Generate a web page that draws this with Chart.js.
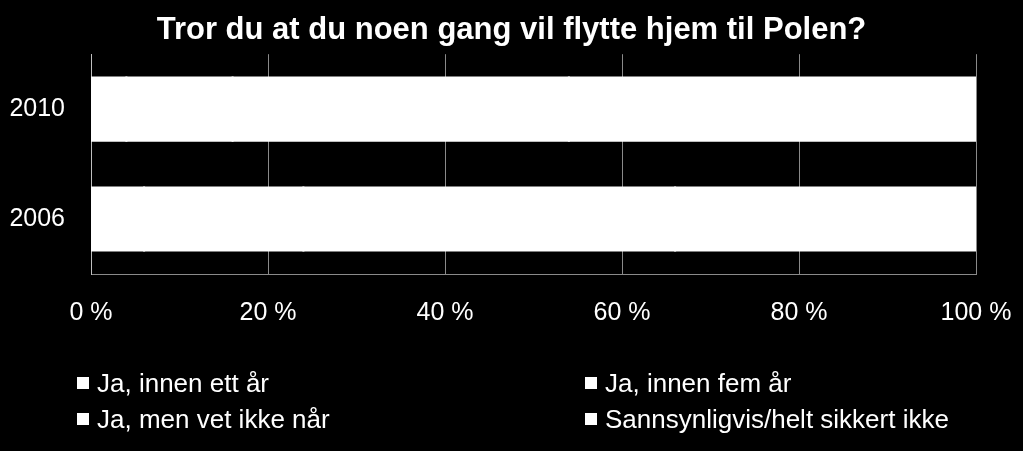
<!DOCTYPE html>
<html>
<head>
<meta charset="utf-8">
<script src="https://cdn.jsdelivr.net/npm/chart.js@4/dist/chart.umd.min.js"></script>
<style>
  body { margin: 0; background: #000; }
  #wrap { position: relative; width: 1023px; height: 451px; background: #000; }
  #legend { position: absolute; left: 0; top: 0; font-family: Arial, "Liberation Sans", sans-serif; font-size: 26px; color: #fff; }
  .item { position: absolute; display: flex; align-items: center; white-space: nowrap; height: 30px; }
  .box { width: 12px; height: 12px; margin-right: 8px; }
</style>
</head>
<body>
<div id="wrap">
  <canvas id="chart" width="1023" height="451"></canvas>
  <div id="legend"></div>
</div>
<script>
const years = ['2010', '2006']
const seriesNames = ['Ja, innen ett år', 'Ja, innen fem år', 'Ja, men vet ikke når', 'Sannsynligvis/helt sikkert ikke']
// share per answer, 2010 then 2006 (segments are all white in the original)
const innenEttAr = [4, 6]
const innenFemAr = [12, 18]
const vetIkkeNar = [38, 42]
const sikkertIkke = [46, 34]
const xTicks = [0, 20, 40, 60, 80, 100]

const seriesValues = [innenEttAr, innenFemAr, vetIkkeNar, sikkertIkke]
const colors = ['#ffffff', '#ffffff', '#ffffff', '#ffffff']

const font = 'Arial, "Liberation Sans", sans-serif'

// center the title on the whole canvas, not on the padded box
const centerTitle = {
  id: 'centerTitle',
  afterLayout(chart) {
    const t = chart.titleBlock
    if (t) { t.left = 0; t.right = chart.width; t.width = chart.width }
  },
}

new Chart(document.getElementById('chart'), {
  type: 'bar',
  data: {
    labels: years,
    datasets: seriesNames.map((name, i) => ({
      label: name,
      data: seriesValues[i],
      backgroundColor: colors[i],
      borderWidth: 0,
      inflateAmount: 1,
      barPercentage: 0.574,
      categoryPercentage: 1,
    })),
  },
  options: {
    indexAxis: 'y',
    responsive: false,
    animation: false,
    layout: { padding: { left: 0, right: 47, top: 0, bottom: 117 } },
    plugins: {
      legend: { display: false },
      tooltip: { enabled: false },
      title: {
        display: true,
        text: 'Tror du at du noen gang vil flytte hjem til Polen?',
        color: '#fff',
        font: { family: font, size: 31, weight: 'bold' },
        padding: { top: 12, bottom: 5 },
      },
    },
    scales: {
      x: {
        stacked: true,
        min: 0,
        max: 100,
        afterBuildTicks: (s) => { s.ticks = xTicks.map((v) => ({ value: v })) },
        afterFit: (s) => { s.height = 60; s.paddingLeft = 0; s.paddingRight = 0 },
        grid: { color: '#8a8a8a', lineWidth: 1, drawTicks: false },
        border: { display: true, color: '#8a8a8a' },
        ticks: {
          color: '#fff',
          font: { family: font, size: 25 },
          padding: 24,
          callback: (v) => v + ' %',
        },
      },
      y: {
        stacked: true,
        afterFit: (s) => { s.width = 91 },
        grid: { display: false, drawTicks: false },
        border: { display: true, color: '#bfbfbf' },
        ticks: {
          color: '#fff',
          font: { family: font, size: 25 },
          padding: 26,
        },
      },
    },
  },
  plugins: [centerTitle],
})

// legend in two columns, like the original
const legendPos = [[77, 368], [585, 368], [77, 404], [585, 404]]
const legend = document.getElementById('legend')
seriesNames.forEach((name, i) => {
  const item = document.createElement('div')
  item.className = 'item'
  item.style.left = legendPos[i][0] + 'px'
  item.style.top = legendPos[i][1] + 'px'
  item.innerHTML = '<span class="box" style="background:' + colors[i] + '"></span><span>' + name + '</span>'
  legend.appendChild(item)
})
</script>
</body>
</html>
